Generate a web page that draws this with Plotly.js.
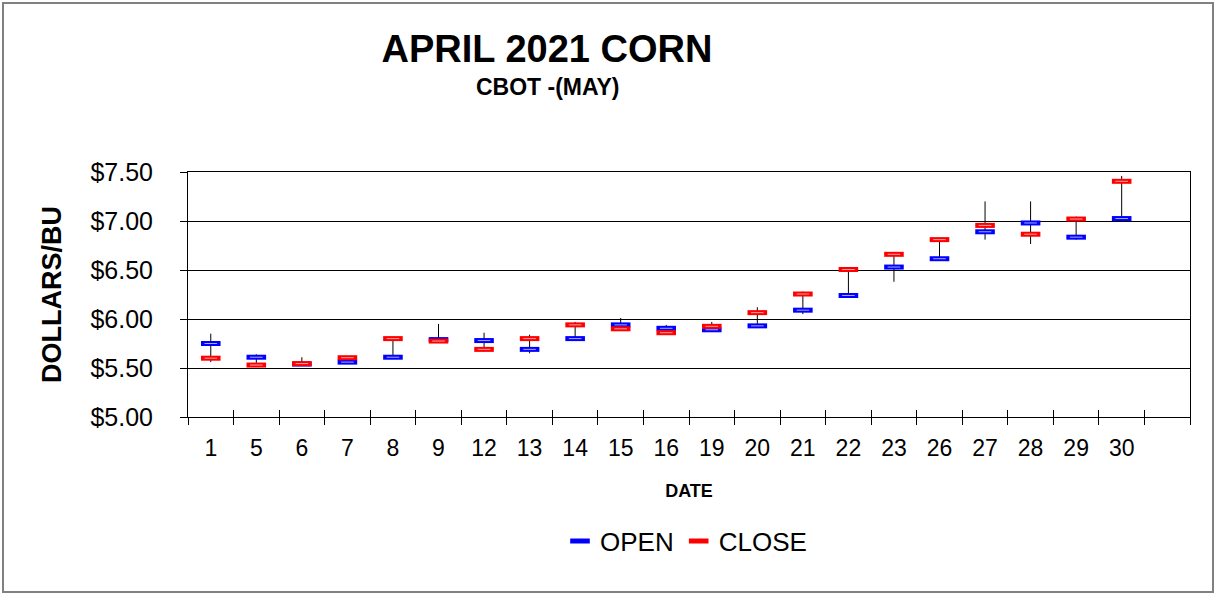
<!DOCTYPE html>
<html>
<head>
<meta charset="utf-8">
<script src="https://cdn.plot.ly/plotly-3.0.1.min.js"></script>
<style>
html,body{margin:0;padding:0;background:#fff;}
#wrap{position:relative;width:1214px;height:593px;}
#chart{width:1214px;height:593px;}
#frame{position:absolute;left:2px;top:2px;width:1208px;height:587px;border:2px solid #808080;pointer-events:none;}
</style>
</head>
<body>
<div id="wrap"><div id="chart"></div><div id="frame"></div></div>
<script>
// ---- data ----
var days  = ['1','5','6','7','8','9','12','13','14','15','16','19','20','21','22','23','26','27','28','29','30'];
var openP = [5.75,5.61,5.54,5.56,5.61,5.79,5.78,5.69,5.80,5.94,5.905,5.89,5.93,6.09,6.24,6.53,6.615,6.89,6.98,6.835,7.025];
var closeP= [5.60,5.53,5.545,5.605,5.80,5.775,5.69,5.80,5.94,5.90,5.86,5.925,6.065,6.255,6.505,6.66,6.81,6.955,6.865,7.02,7.405];
var highP = [5.85,5.64,5.61,5.62,5.81,5.95,5.86,5.84,5.97,6.01,5.94,5.97,6.12,6.28,6.51,6.66,6.81,7.20,7.20,7.045,7.46];
var lowP  = [5.56,5.51,5.52,5.55,5.60,5.755,5.67,5.65,5.79,5.88,5.84,5.88,5.93,6.05,6.24,6.38,6.62,6.81,6.765,6.81,6.99];
var yTicks = [5.00,5.50,6.00,6.50,7.00,7.50];

// ---- derived ----
var idx = days.map(function(d,i){return i;});
var nSlots = days.length + 1;           // one empty slot at the end
var bounds = [];
for (var b = 0; b <= nSlots; b++) bounds.push(b - 0.5);

var hlX = [], hlY = [];
idx.forEach(function(i){ hlX.push(i,i,null); hlY.push(lowP[i],highP[i],null); });

var FONT = '"Liberation Sans", Arial, sans-serif';

var traces = [
  {x: hlX, y: hlY, type:'scatter', mode:'lines', line:{color:'#000', width:1},
   showlegend:false, hoverinfo:'skip'},
  {x: idx, y: openP, type:'scatter', mode:'markers', name:'OPEN',
   marker:{symbol:'line-ew', size:14, color:'#0000ff', line:{color:'#0000ff', width:5}}},
  {x: idx, y: openP, type:'scatter', mode:'markers', showlegend:false, hoverinfo:'skip',
   marker:{symbol:'line-ew', size:9, color:'#a8a8ff', line:{color:'#a8a8ff', width:1}}},
  {x: idx, y: closeP, type:'scatter', mode:'markers', name:'CLOSE',
   marker:{symbol:'line-ew', size:14, color:'#ff0000', line:{color:'#ff0000', width:5}}},
  {x: idx, y: closeP, type:'scatter', mode:'markers', showlegend:false, hoverinfo:'skip',
   marker:{symbol:'line-ew', size:9, color:'#ffa0a0', line:{color:'#ffa0a0', width:1}}},
  {x: [], y: [], xaxis:'x2', type:'scatter', mode:'markers', showlegend:false, hoverinfo:'skip'}
];

var layout = {
  width:1214, height:593,
  margin:{l:188, r:24, t:172, b:176},
  paper_bgcolor:'#fff', plot_bgcolor:'#fff',
  font:{family:FONT, color:'#000'},
  showlegend:true,
  title:{text:'<b>APRIL 2021 CORN</b>', font:{family:FONT, size:38, color:'#000'},
         x:547/1214, xref:'container', xanchor:'center', y:1-49/593, yref:'container', yanchor:'middle'},
  annotations:[{text:'<b>CBOT -(MAY)</b>', xref:'paper', yref:'paper',
    x:(548-188)/1002, y:(417-87)/245, xanchor:'center', yanchor:'middle', showarrow:false,
    font:{family:FONT, size:23, color:'#000'}}],
  xaxis:{
    range:[-0.5, nSlots - 0.5], tickvals: idx, ticktext: days, ticks:'',
    tickfont:{family:FONT, size:23, color:'#000'}, ticklabelstandoff:10,
    minor:{tickvals: bounds, ticks:'outside', ticklen:7, tickcolor:'#000', tickwidth:1, showgrid:false},
    showgrid:false, zeroline:false, showline:true, linecolor:'#000', linewidth:1, mirror:true,
    title:{text:'<b>DATE</b>', font:{family:FONT, size:18, color:'#000'}, standoff:24},
    fixedrange:true
  },
  xaxis2:{
    overlaying:'x', anchor:'y', side:'bottom', range:[-0.5, nSlots - 0.5],
    tickvals: bounds, ticks:'inside', ticklen:7, tickcolor:'#000', tickwidth:1,
    showticklabels:false, showgrid:false, zeroline:false, showline:false
  },
  yaxis:{
    range:[5, 7.5], tickvals: yTicks, tickformat:'$.2f',
    ticks:'outside', ticklen:7, tickcolor:'#000', ticklabelstandoff:22,
    tickfont:{family:FONT, size:25, color:'#000'},
    showgrid:true, gridcolor:'#000', gridwidth:1, zeroline:false,
    showline:true, linecolor:'#000', linewidth:1, mirror:true,
    title:{text:'<b>DOLLARS/BU</b>', font:{family:FONT, size:27, color:'#000'}, standoff:20},
    fixedrange:true
  },
  legend:{orientation:'h', x:(686-188)/1002, xanchor:'center', y:(417-541)/245, yanchor:'middle',
          font:{family:FONT, size:26, color:'#000'}, bgcolor:'rgba(0,0,0,0)', itemwidth:30}
};

Plotly.newPlot('chart', traces, layout, {displayModeBar:false, staticPlot:true});
</script>
</body>
</html>
